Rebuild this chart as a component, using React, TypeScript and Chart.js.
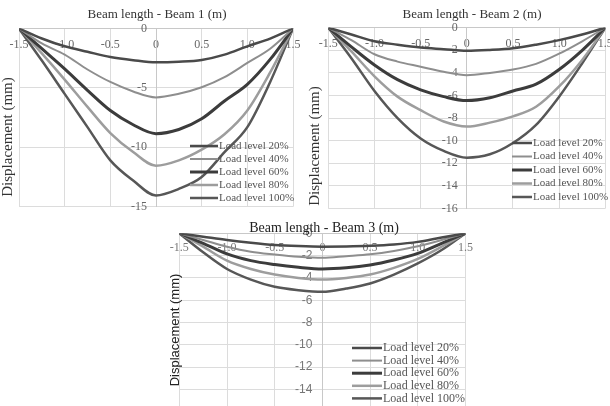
import React, { useEffect, useRef } from "react";
import { Chart, registerables } from "chart.js";

Chart.register(...registerables);

// ---------- data ----------
const beamX = [-1.5, -1.25, -1, -0.75, -0.5, -0.25, 0, 0.25, 0.5, 0.75, 1, 1.25, 1.5];
const loadLabels = ["Load level 20%", "Load level 40%", "Load level 60%", "Load level 80%", "Load level 100%"];

const beam1_20 = [0, -0.84, -1.5, -1.96, -2.4, -2.67, -2.85, -2.8, -2.65, -2.2, -1.5, -0.85, 0];
const beam1_40 = [0, -1.26, -2.2, -3.45, -4.5, -5.3, -5.8, -5.5, -4.95, -4.1, -2.9, -1.7, 0];
const beam1_60 = [0, -1.7, -3.4, -5.2, -6.9, -8.1, -8.85, -8.5, -7.6, -6.1, -4.7, -2.6, 0];
const beam1_80 = [0, -2.1, -4.3, -6.6, -8.8, -10.4, -11.55, -11.1, -10.2, -8.9, -6.9, -3.7, 0];
const beam1_100 = [0, -2.7, -5.5, -8.3, -11.1, -12.8, -14.05, -13.5, -12.5, -10.4, -8.3, -4.5, 0];

const beam2_20 = [0, -0.6, -1.2, -1.5, -1.75, -1.9, -2.05, -1.97, -1.82, -1.5, -1.1, -0.6, 0];
const beam2_40 = [0, -1.1, -2.35, -3.0, -3.45, -3.9, -4.2, -4.0, -3.7, -3.2, -2.3, -1.2, 0];
const beam2_60 = [0, -1.7, -3.3, -4.6, -5.5, -6.1, -6.45, -6.2, -5.6, -5.0, -3.7, -2.0, 0];
const beam2_80 = [0, -2.1, -4.3, -6.1, -7.3, -8.3, -8.75, -8.4, -7.85, -7.0, -5.2, -2.85, 0];
const beam2_100 = [0, -2.7, -5.6, -8.0, -9.8, -10.9, -11.5, -11.2, -10.2, -8.6, -6.1, -3.15, 0];

const beam3_20 = [0, -0.3, -0.6, -0.85, -1.05, -1.15, -1.2, -1.18, -1.12, -1.0, -0.77, -0.37, 0];
const beam3_40 = [0, -0.6, -1.2, -1.65, -1.9, -2.1, -2.2, -2.05, -1.88, -1.58, -1.17, -0.6, 0];
const beam3_60 = [0, -0.9, -1.85, -2.45, -2.8, -3.05, -3.2, -3.1, -2.85, -2.4, -1.8, -0.9, 0];
const beam3_80 = [0, -1.2, -2.45, -3.2, -3.7, -4.0, -4.15, -4.0, -3.7, -3.1, -2.3, -1.2, 0];
const beam3_100 = [0, -1.7, -3.2, -4.15, -4.8, -5.1, -5.25, -4.95, -4.5, -3.7, -2.7, -1.5, 0];

const lineColors = ["#4a4a4a", "#8e8e8e", "#3c3c3c", "#9d9d9d", "#575757"];
const lineWidths = [2.5, 2, 3, 2.5, 2.5];

// ---------- plugin for titles + legend ----------
const decorPlugin = {
  id: "decor",
  afterDraw(chart: any, _args: any, opts: any) {
    const { ctx } = chart;
    ctx.save();
    ctx.fillStyle = opts.titleColor;
    ctx.font = opts.titleFont;
    ctx.textAlign = "center";
    ctx.textBaseline = "middle";
    ctx.fillText(opts.title, opts.titleX, opts.titleY);
    ctx.save();
    ctx.font = opts.yTitleFont;
    ctx.translate(opts.yTitleX, opts.yTitleY);
    ctx.rotate(-Math.PI / 2);
    ctx.fillText(opts.yTitle, 0, 0);
    ctx.restore();
    const lg = opts.legend;
    ctx.font = lg.font;
    ctx.textAlign = "left";
    ctx.textBaseline = "middle";
    chart.data.datasets.forEach((ds: any, i: number) => {
      const y = lg.y + i * lg.rowH;
      ctx.strokeStyle = ds.borderColor;
      ctx.lineWidth = ds.borderWidth;
      ctx.beginPath();
      ctx.moveTo(lg.x, y);
      ctx.lineTo(lg.x + lg.len, y);
      ctx.stroke();
      ctx.fillStyle = lg.color;
      ctx.fillText(ds.label, lg.x + lg.len + 1, y);
    });
    ctx.restore();
  },
};

type Cfg = {
  width: number;
  height: number;
  left: number;
  top: number;
  padding: { left: number; right: number; top: number; bottom: number };
  series: number[][];
  yMin: number;
  yStep: number;
  tickFont: any;
  yTickFont: any;
  tickColor: string;
  xTickPad: number;
  yGap: string;
  decor: any;
};

function BeamChart({ cfg }: { cfg: Cfg }) {
  const ref = useRef<HTMLCanvasElement | null>(null);
  useEffect(() => {
    if (!ref.current) return;
    const datasets = cfg.series.map((vals, i) => ({
      label: loadLabels[i],
      data: beamX.map((x, j) => ({ x, y: vals[j] })),
      borderColor: lineColors[i],
      backgroundColor: lineColors[i],
      borderWidth: lineWidths[i],
      pointRadius: 0,
      cubicInterpolationMode: "monotone" as const,
      fill: false,
    }));
    const chart = new Chart(ref.current, {
      type: "line",
      data: { datasets },
      plugins: [decorPlugin],
      options: {
        animation: false,
        responsive: false,
        devicePixelRatio: 1,
        layout: { padding: cfg.padding },
        plugins: {
          legend: { display: false },
          title: { display: false },
          tooltip: { enabled: false },
          decor: cfg.decor,
        } as any,
        scales: {
          x: {
            type: "linear",
            min: -1.5,
            max: 1.5,
            position: { y: 0 } as any,
            ticks: { stepSize: 0.5, font: cfg.tickFont, color: cfg.tickColor, padding: cfg.xTickPad, maxRotation: 0 },
            grid: { color: "#dcdcdc", drawTicks: false },
            border: { color: "#c8c8c8" },
          },
          y: {
            type: "linear",
            min: cfg.yMin,
            max: 0,
            position: { x: 0 } as any,
            ticks: {
              stepSize: cfg.yStep,
              font: cfg.yTickFont,
              color: cfg.tickColor,
              padding: 0,
              callback: (v: any) => `${v}${cfg.yGap}`,
            },
            grid: { color: "#dcdcdc", drawTicks: false },
            border: { color: "#c8c8c8" },
          },
        },
      },
    });
    return () => chart.destroy();
  }, [cfg]);
  return (
    <div style={{ position: "absolute", left: cfg.left, top: cfg.top, width: cfg.width, height: cfg.height }}>
      <canvas ref={ref} width={cfg.width} height={cfg.height} style={{ width: cfg.width, height: cfg.height }} />
    </div>
  );
}

const serif = "'Liberation Serif', 'DejaVu Serif', serif";
const sans = "'Liberation Sans', Arial, sans-serif";

const cfg1: Cfg = {
  width: 325,
  height: 230,
  left: 0,
  top: 0,
  padding: { left: 19, right: 32, top: 28.5, bottom: 23.3 },
  series: [beam1_20, beam1_40, beam1_60, beam1_80, beam1_100],
  yMin: -15,
  yStep: 5,
  tickFont: { family: serif, size: 12 },
  yTickFont: { family: serif, size: 12 },
  tickColor: "#666666",
  xTickPad: 9,
  yGap: "   ",
  decor: {
    title: "Beam length - Beam 1 (m)",
    titleFont: `13px ${serif}`,
    titleColor: "#333333",
    titleX: 157,
    titleY: 15,
    yTitle: "Displacement (mm)",
    yTitleFont: `15px ${serif}`,
    yTitleX: 8,
    yTitleY: 137,
    legend: { x: 190, y: 146, rowH: 13, len: 28, font: `11px ${serif}`, color: "#555555" },
  },
};

const cfg2: Cfg = {
  width: 320,
  height: 230,
  left: 305,
  top: 0,
  padding: { left: 23.3, right: 19.7, top: 27.7, bottom: 21.5 },
  series: [beam2_20, beam2_40, beam2_60, beam2_80, beam2_100],
  yMin: -16,
  yStep: 2,
  tickFont: { family: serif, size: 12 },
  yTickFont: { family: serif, size: 12 },
  tickColor: "#666666",
  xTickPad: 9,
  yGap: "   ",
  decor: {
    title: "Beam length - Beam 2 (m)",
    titleFont: `13px ${serif}`,
    titleColor: "#333333",
    titleX: 167,
    titleY: 15,
    yTitle: "Displacement (mm)",
    yTitleFont: `15px ${serif}`,
    yTitleX: 10,
    yTitleY: 146,
    legend: { x: 207, y: 143, rowH: 13.5, len: 20, font: `11px ${serif}`, color: "#555555" },
  },
};

const cfg3: Cfg = {
  width: 330,
  height: 230,
  left: 150,
  top: 205,
  padding: { left: 29.3, right: 14.5, top: 28.3, bottom: 23.3 },
  series: [beam3_20, beam3_40, beam3_60, beam3_80, beam3_100],
  yMin: -16,
  yStep: 2,
  tickFont: { family: serif, size: 12 },
  yTickFont: { family: sans, size: 12 },
  tickColor: "#777777",
  xTickPad: 7,
  yGap: "   ",
  decor: {
    title: "Beam length - Beam 3 (m)",
    titleFont: `14px ${serif}`,
    titleColor: "#222222",
    titleX: 174,
    titleY: 23,
    yTitle: "Displacement (mm)",
    yTitleFont: `13px ${sans}`,
    yTitleX: 25,
    yTitleY: 125,
    legend: { x: 202, y: 143, rowH: 12.6, len: 30, font: `12px ${serif}`, color: "#555555" },
  },
};

export default function App() {
  return (
    <div
      style={{
        position: "fixed",
        left: 0,
        top: 0,
        width: 610,
        height: 406,
        overflow: "hidden",
        background: "#ffffff",
      }}
    >
      <BeamChart cfg={cfg1} />
      <BeamChart cfg={cfg2} />
      <BeamChart cfg={cfg3} />
    </div>
  );
}
